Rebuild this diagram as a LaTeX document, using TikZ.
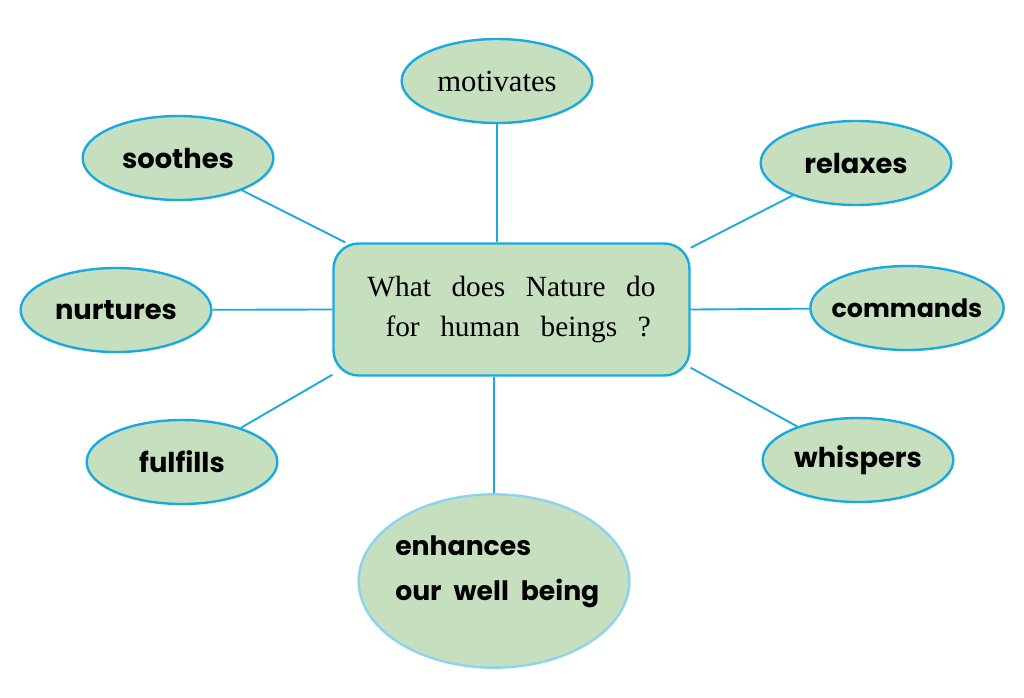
\documentclass[tikz,border=0pt]{standalone}
\usepackage{fontspec}
\setmainfont{Liberation Serif}
\newfontfamily\comic{Poppins}
\usetikzlibrary{shapes.geometric}
\definecolor{fillg}{HTML}{C6E0BF}
\definecolor{edgeb}{HTML}{1BA9E1}
\definecolor{edgel}{HTML}{8DD3F0}
\newcommand\hubfont{\fontsize{22}{30}\selectfont\spaceskip=0.7em\relax}
\newcommand\enhfont{\comic\bfseries\fontsize{20}{34}\selectfont\spaceskip=0.45em\relax}
\tikzset{
  bub/.style={ellipse, draw=edgeb, fill=fillg, line width=1.8pt, inner sep=0pt,
    minimum width=143pt, minimum height=63pt, font=\comic\bfseries\fontsize{20.5}{24}\selectfont},
  link/.style={draw=edgeb, line width=1.4pt},
  hub/.style={rectangle, rounded corners=19pt, draw=edgeb, fill=fillg, line width=1.8pt,
    minimum width=267pt, minimum height=99pt, inner sep=0pt, align=center,
    font=\hubfont}
}
\begin{document}
\begin{tikzpicture}[x=0.75pt,y=-0.75pt]
\useasboundingbox (0,0) rectangle (1024,697);
\node[hub] (c) at (511.5,309.5) {What does Nature do\\\hspace*{10pt}for human beings ?};
\node[bub, font=\fontsize{23}{26}\selectfont] (mot) at (497,81) {motivates};
\node[bub] (soo) at (178,158) {soothes};
\node[bub] (rel) at (856,163) {relaxes};
\node[bub] (nur) at (116,310) {nurtures};
\node[bub, minimum width=145pt, inner xsep=-20pt, font=\comic\bfseries\fontsize{19}{22}\selectfont] (com) at (907,308) {commands};
\node[bub] (ful) at (182,462) {fulfills};
\node[bub] (whi) at (858,460) {whispers};
\node[bub, draw=edgel, minimum width=203pt, minimum height=130pt] (enh) at (494,581) {};
\node[font=\enhfont, align=left, inner sep=0pt, anchor=north west] (enhtxt) at (395,535) {enhances\\our well being};
\draw[link] (mot.south) -- (mot.south |- c.north);
\draw[link] (enh.north) -- (enh.north |- c.south);
\draw[link] (soo) -- (c.158);
\draw[link] (rel) -- (c.19);
\draw[link] (nur) -- (c.west);
\draw[link] (com) -- (c.east);
\draw[link] (ful) -- (c.200);
\draw[link] (whi) -- (c.342);
\end{tikzpicture}
\end{document}
